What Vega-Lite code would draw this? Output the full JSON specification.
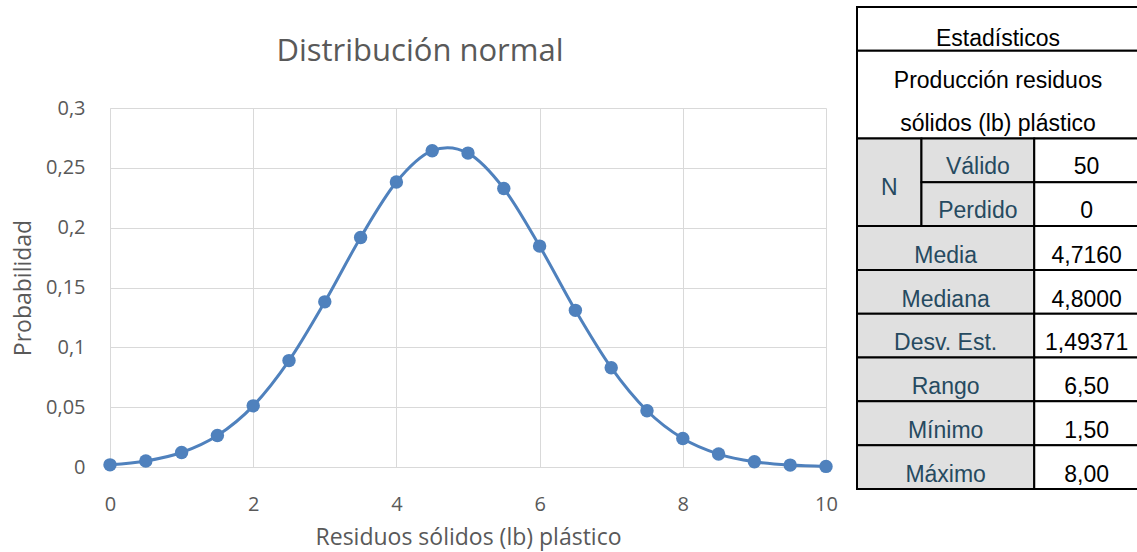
{
  "$schema": "https://vega.github.io/schema/vega-lite/v6.json",
  "width": 716,
  "height": 359,
  "autosize": {"type": "none"},
  "padding": {"left": 110, "top": 108, "right": 311, "bottom": 85},
  "background": "white",
  "config": {"view": {"stroke": null}, "font": "Open Sans"},
  "title": {
    "text": "Distribución normal",
    "anchor": "middle",
    "frame": "group",
    "dx": -48,
    "offset": -86,
    "baseline": "alphabetic",
    "font": "Open Sans",
    "fontSize": 31,
    "fontWeight": "normal",
    "color": "#595959"
  },
  "datasets": {
    "curve": [
      {"x": 0, "y": 0.0018},
      {"x": 0.5, "y": 0.005},
      {"x": 1, "y": 0.0121},
      {"x": 1.5, "y": 0.0263},
      {"x": 2, "y": 0.0511},
      {"x": 2.5, "y": 0.0889},
      {"x": 3, "y": 0.138},
      {"x": 3.5, "y": 0.1918},
      {"x": 4, "y": 0.2381},
      {"x": 4.5, "y": 0.2643},
      {"x": 5, "y": 0.2623},
      {"x": 5.5, "y": 0.2327},
      {"x": 6, "y": 0.1846},
      {"x": 6.5, "y": 0.1309},
      {"x": 7, "y": 0.083},
      {"x": 7.5, "y": 0.047},
      {"x": 8, "y": 0.0238},
      {"x": 8.5, "y": 0.0108},
      {"x": 9, "y": 0.0044},
      {"x": 9.5, "y": 0.0016},
      {"x": 10, "y": 0.0005}
    ],
    "table": [
      {"text": "Estadísticos", "kind": "header", "c0": 0, "c1": 35, "r0": 0, "r1": 1, "cx": 17.5, "cy": 0.68},
      {"text": "Producción residuos\nsólidos (lb) plástico", "kind": "header", "c0": 0, "c1": 35, "r0": 1, "r1": 3, "cx": 17.5, "cy": 1.64},
      {"text": "N", "kind": "label", "c0": 0, "c1": 8, "r0": 3, "r1": 5, "cx": 4, "cy": 4.09},
      {"text": "Válido", "kind": "label", "c0": 8, "c1": 22, "r0": 3, "r1": 4, "cx": 15, "cy": 3.61},
      {"text": "Perdido", "kind": "label", "c0": 8, "c1": 22, "r0": 4, "r1": 5, "cx": 15, "cy": 4.6},
      {"text": "50", "kind": "value", "c0": 22, "c1": 35, "r0": 3, "r1": 4, "cx": 28.5, "cy": 3.61},
      {"text": "0", "kind": "value", "c0": 22, "c1": 35, "r0": 4, "r1": 5, "cx": 28.5, "cy": 4.6},
      {"text": "Media", "kind": "label", "c0": 0, "c1": 22, "r0": 5, "r1": 6, "cx": 11, "cy": 5.63},
      {"text": "4,7160", "kind": "value", "c0": 22, "c1": 35, "r0": 5, "r1": 6, "cx": 28.5, "cy": 5.63},
      {"text": "Mediana", "kind": "label", "c0": 0, "c1": 22, "r0": 6, "r1": 7, "cx": 11, "cy": 6.63},
      {"text": "4,8000", "kind": "value", "c0": 22, "c1": 35, "r0": 6, "r1": 7, "cx": 28.5, "cy": 6.63},
      {"text": "Desv. Est.", "kind": "label", "c0": 0, "c1": 22, "r0": 7, "r1": 8, "cx": 11, "cy": 7.63},
      {"text": "1,49371", "kind": "value", "c0": 22, "c1": 35, "r0": 7, "r1": 8, "cx": 28.5, "cy": 7.63},
      {"text": "Rango", "kind": "label", "c0": 0, "c1": 22, "r0": 8, "r1": 9, "cx": 11, "cy": 8.63},
      {"text": "6,50", "kind": "value", "c0": 22, "c1": 35, "r0": 8, "r1": 9, "cx": 28.5, "cy": 8.63},
      {"text": "Mínimo", "kind": "label", "c0": 0, "c1": 22, "r0": 9, "r1": 10, "cx": 11, "cy": 9.63},
      {"text": "1,50", "kind": "value", "c0": 22, "c1": 35, "r0": 9, "r1": 10, "cx": 28.5, "cy": 9.63},
      {"text": "Máximo", "kind": "label", "c0": 0, "c1": 22, "r0": 10, "r1": 11, "cx": 11, "cy": 10.63},
      {"text": "8,00", "kind": "value", "c0": 22, "c1": 35, "r0": 10, "r1": 11, "cx": 28.5, "cy": 10.63}
    ]
  },
  "layer": [
    {
      "data": {"name": "curve"},
      "layer": [
        {
          "mark": {"type": "line", "interpolate": "cardinal", "color": "#4f81bd", "strokeWidth": 3},
          "encoding": {
            "x": {
              "field": "x", "type": "quantitative",
              "scale": {"domain": [0, 10], "nice": false, "zero": false},
              "axis": {
                "values": [0, 2, 4, 6, 8, 10],
                "format": "~g",
                "title": "Residuos sólidos (lb) plástico",
                "grid": true, "gridColor": "#d9d9d9", "gridWidth": 1,
                "domainColor": "#d9d9d9", "domainWidth": 1,
                "ticks": false, "tickSize": 0,
                "labelFlush": false, "labelOverlap": false,
                "labelFont": "Open Sans", "labelFontSize": 20, "labelColor": "#595959", "labelPadding": 27,
                "titleFont": "Open Sans", "titleFontSize": 23, "titleFontWeight": "normal", "titleColor": "#595959", "titlePadding": 12
              }
            },
            "y": {
              "field": "y", "type": "quantitative",
              "scale": {"domain": [0, 0.3], "nice": false, "zero": false},
              "axis": {
                "values": [0, 0.05, 0.1, 0.15, 0.2, 0.25, 0.3],
                "format": "~g",
                "labelExpr": "replace(datum.label, '.', ',')",
                "title": "Probabilidad",
                "grid": true, "gridColor": "#d9d9d9", "gridWidth": 1,
                "domainColor": "#d9d9d9", "domainWidth": 1,
                "ticks": false, "tickSize": 0,
                "labelFlush": false, "labelOverlap": false,
                "labelFont": "Open Sans", "labelFontSize": 20, "labelColor": "#595959", "labelPadding": 25,
                "titleFont": "Open Sans", "titleFontSize": 23, "titleFontWeight": "normal", "titleColor": "#595959", "titlePadding": 10
              }
            }
          }
        },
        {
          "mark": {"type": "point", "filled": true, "size": 180, "color": "#4f81bd", "opacity": 1},
          "encoding": {
            "x": {"field": "x", "type": "quantitative"},
            "y": {"field": "y", "type": "quantitative"}
          }
        }
      ]
    },
    {
      "data": {"name": "table"},
      "layer": [
        {
          "mark": {"type": "rect", "stroke": "#000000", "strokeWidth": 2},
          "encoding": {
            "x": {"field": "c0", "type": "quantitative", "scale": {"domain": [0, 35], "range": [747, 1029], "zero": false, "nice": false}, "axis": null},
            "x2": {"field": "c1"},
            "y": {"field": "r0", "type": "quantitative", "scale": {"domain": [0, 11], "range": [-101, 381], "zero": false, "nice": false}, "axis": null},
            "y2": {"field": "r1"},
            "fill": {"field": "kind", "type": "nominal", "scale": {"domain": ["header", "label", "value"], "range": ["#ffffff", "#e0e0e0", "#ffffff"]}, "legend": null}
          }
        },
        {
          "mark": {"type": "text", "font": "Liberation Sans", "fontSize": 23, "lineBreak": "\n", "lineHeight": 43, "baseline": "middle", "align": "center", "dy": 2},
          "encoding": {
            "x": {"field": "cx", "type": "quantitative"},
            "y": {"field": "cy", "type": "quantitative"},
            "text": {"field": "text"},
            "color": {"field": "kind", "type": "nominal", "scale": {"domain": ["header", "label", "value"], "range": ["#000000", "#264a60", "#000000"]}, "legend": null}
          }
        }
      ]
    }
  ],
  "resolve": {"scale": {"x": "independent", "y": "independent"}}
}
